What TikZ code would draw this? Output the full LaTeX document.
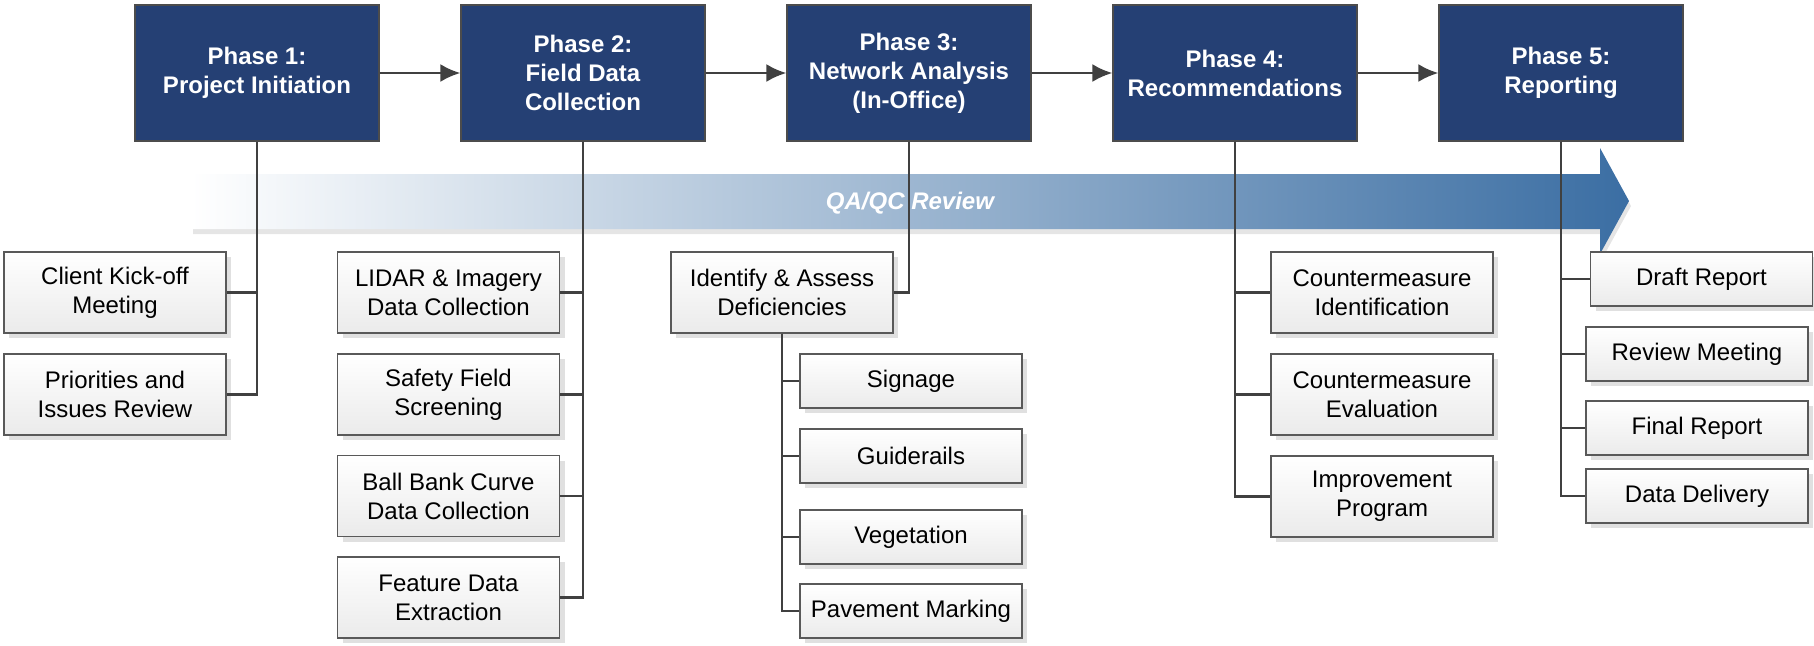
\documentclass[tikz,border=0pt]{standalone}
\usepackage{fontspec}
\setmainfont{Liberation Sans}
\usepackage{xcolor}
\usepackage{tikz}
\usetikzlibrary{arrows.meta,shapes,shadows}

\definecolor{phaseblue}{RGB}{37,64,116}
\definecolor{qablue}{RGB}{59,110,163}
\definecolor{linegray}{RGB}{64,64,64}

\begin{document}
\begin{tikzpicture}[x=0.5pt,y=-0.5pt,
        every node/.style={font=\fontsize{12}{14.5}\selectfont},
        phase/.style={draw=black!70,line width=0.6pt,fill=phaseblue,text=white,
            font=\fontsize{12}{14.5}\selectfont\bfseries,align=center,
            minimum width=122pt,minimum height=68pt,inner sep=0pt},
        task/.style={draw=black!65,line width=0.6pt,top color=white,bottom color=black!8,
            align=center,minimum width=111pt,minimum height=40.5pt,inner sep=0pt,
            drop shadow={shadow xshift=2.5pt,shadow yshift=-2.5pt,fill=black!12,opacity=1}},
        small/.style={task,minimum height=27pt},
        link/.style={draw=linegray,line width=1.3pt},
        flow/.style={link,-{Latex[length=10pt,width=9pt]}}]
        \useasboundingbox (0,0) rectangle (1814,645);

        \fill[black!10,shift={(2,5)}] (191,174) -- (1600,174) -- (1600,148) -- (1629,201)
            -- (1600,254) -- (1600,229) -- (191,229) -- cycle;
        \shade[left color=white,right color=qablue] (191,174) -- (1600,174) -- (1600,148)
            -- (1629,201) -- (1600,254) -- (1600,229) -- (191,229) -- cycle;

        \node[phase] (A1) at (257,73) {Phase 1:\\Project Initiation};
        \node[phase] (A2) at (583,73) {Phase 2:\\Field Data\\Collection};
        \node[phase] (A3) at (909,73) {Phase 3:\\Network Analysis\\(In-Office)};
        \node[phase] (A4) at (1235,73) {Phase 4:\\Recommendations};
        \node[phase] (A5) at (1561,73) {Phase 5:\\Reporting};

        \node[task] (B1) at (115,292.5) {Client Kick-off\\Meeting};
        \node[task] (B2) at (115,394.5) {Priorities and\\Issues Review};

        \node[task] (B3) at (448.5,292.5) {LIDAR \& Imagery\\Data Collection};
        \node[task] (B4) at (448.5,394.5) {Safety Field\\Screening};
        \node[task] (B5) at (448.5,496) {Ball Bank Curve\\Data Collection};
        \node[task] (B6) at (448.5,597.5) {Feature Data\\Extraction};

        \node[task] (B7) at (782,292.5) {Identify \& Assess\\Deficiencies};
        \node[small] (C1) at (911,381) {Signage};
        \node[small] (C2) at (911,456) {Guiderails};
        \node[small] (C3) at (911,537) {Vegetation};
        \node[small] (C4) at (911,611) {Pavement Marking};

        \node[task] (B8) at (1382,292.5) {Countermeasure\\Identification};
        \node[task] (B9) at (1382,394.5) {Countermeasure\\Evaluation};
        \node[task] (B10) at (1382,496.5) {Improvement\\Program};

        \node[small] (B11) at (1701.5,279) {Draft Report};
        \node[small] (B12) at (1697,354) {Review Meeting};
        \node[small] (B13) at (1697,428) {Final Report};
        \node[small] (B14) at (1697,496) {Data Delivery};

        \draw[flow] (A1) -- (A2);
        \draw[flow] (A2) -- (A3);
        \draw[flow] (A3) -- (A4);
        \draw[flow] (A4) -- (A5);

        \draw[link] (A1.south) |- (B1.east);
        \draw[link] (A1.south) |- (B2.east);
        \draw[link] (A2.south) |- (B3.east);
        \draw[link] (A2.south) |- (B4.east);
        \draw[link] (A2.south) |- (B5.east);
        \draw[link] (A2.south) |- (B6.east);
        \draw[link] (A3.south) |- (B7.east);
        \draw[link] (B7.south) |- (C1.west);
        \draw[link] (B7.south) |- (C2.west);
        \draw[link] (B7.south) |- (C3.west);
        \draw[link] (B7.south) |- (C4.west);
        \draw[link] (A4.south) |- (B8.west);
        \draw[link] (A4.south) |- (B9.west);
        \draw[link] (A4.south) |- (B10.west);
        \draw[link] (A5.south) |- (B11.west);
        \draw[link] (A5.south) |- (B12.west);
        \draw[link] (A5.south) |- (B13.west);
        \draw[link] (A5.south) |- (B14.west);

        \node[text=white,font=\fontsize{12}{14.5}\selectfont\bfseries\itshape] (Q) at (910,203) {QA/QC Review};
    \end{tikzpicture}
\end{document}
